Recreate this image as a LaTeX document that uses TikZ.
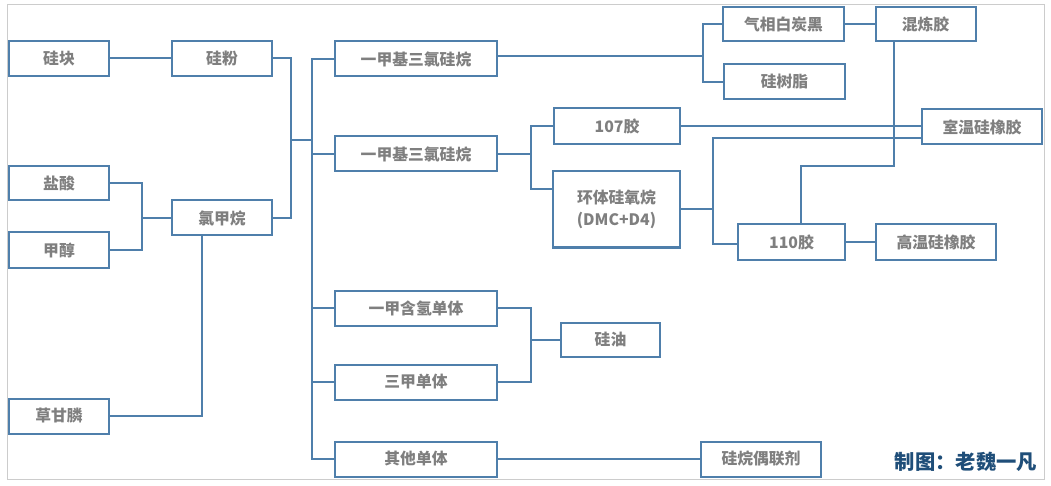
\documentclass[tikz,border=0pt]{standalone}
\usepackage{fontspec}
\setmainfont{Noto Sans CJK SC}
\definecolor{boxline}{HTML}{4F7FAB}
\definecolor{boxtext}{HTML}{7F7F7F}
\definecolor{credit}{HTML}{1F4E79}
\tikzset{
	item/.style={draw=boxline,line width=2pt,fill=white,inner sep=0pt,align=center,text=boxtext,font=\fontsize{15.8}{22}\selectfont\bfseries},
	link/.style={draw=boxline,line width=2pt}
}
\begin{document}
\begin{tikzpicture}[x=1pt,y=-1pt]
	\useasboundingbox (0,0) rectangle (1051,486);
	\draw [black!20,line width=1pt] (7,5) rectangle (1044,479);

	% RAW MATERIALS
	\foreach \n/\x/\y/\w/\h/\t in {kuai/59/58.5/100/35/硅块, fen/222/58.5/100/35/硅粉,
		suan/59/183.5/100/34/盐酸, chun/59/250/100/35/甲醇,
		wan/222/218/100/35/氯甲烷, lin/59/416/100/35/草甘膦} {
		\node [item,minimum width=\w pt,minimum height=\h pt] (\n) at (\x,\y) {\t};
	}

	% MONOMERS
	\foreach \n/\y/\t in {mono/59/一甲基三氯硅烷, monob/154/一甲基三氯硅烷, hyd/308/一甲含氢单体, tri/382/三甲单体, other/459/其他单体} {
		\node [item,minimum width=162pt,minimum height=35pt] (\n) at (416,\y) {\t};
	}

	% PRODUCTS
	\foreach \n/\x/\y/\w/\h/\t in {carbon/783.5/24.5/121/34/气相白炭黑, resin/784.5/82/121/35/硅树脂, mix/925.5/24.5/100/34/混炼胶,
		g107/617/126.5/126/36/107胶, ring/616.5/209.5/127/76/环体硅氧烷\\(DMC+D4), rtv/982/127/120/35/室温硅橡胶,
		g110/791.5/242/107/35/110胶, htv/936/242/120/35/高温硅橡胶,
		oil/610.5/339.5/99/34/硅油, silane/761/459/120/35/硅烷偶联剂} {
		\node [item,minimum width=\w pt,minimum height=\h pt] (\n) at (\x,\y) {\t};
	}

	\node [text=credit,font=\fontsize{20.3}{24}\selectfont\bfseries] (author) at (966,462) {制图：老魏一凡};

	% JUNCTIONS
	\coordinate (jfen) at (291,140);
	\coordinate (jmono) at (312,140);
	\coordinate (jsuan) at (142,218);
	\coordinate (jcarbon) at (703,56);
	\coordinate (jmonob) at (531,154);
	\coordinate (jring) at (713,209);
	\coordinate (joil) at (531,339.5);
	\coordinate (jmix) at (894,166);
	\coordinate (jg110) at (801,224);
	\coordinate (lrtv) at (921,138);

	% CONNECTORS
	\draw [link] (kuai) -- (fen);
	\draw [link] (fen.east) -| (jfen) |- (wan.east);
	\draw [link] (jfen) -- (jmono);
	\foreach \n in {mono,monob,hyd,tri,other} {
		\draw [link] (jmono) |- (\n.west);
	}
	\draw [link] (suan.east) -| (jsuan) |- (chun.east);
	\draw [link] (jsuan) -- (wan.west);
	\draw [link] (wan.south -| 202,0) |- (lin.east);
	\draw [link] (mono.east |- jcarbon) -- (jcarbon);
	\draw [link] (jcarbon) |- (carbon.west);
	\draw [link] (jcarbon) |- (resin.west);
	\draw [link] (carbon) -- (mix);
	\draw [link] (mix.south -| jmix) -- (jmix) -| (jg110);
	\draw [link] (monob) -- (jmonob);
	\draw [link] (jmonob) |- (g107.west);
	\draw [link] (jmonob) |- (ring.west |- 0,189);
	\draw [link] (g107) -- (g107 -| rtv.west);
	\draw [link] (ring.east |- jring) -- (jring);
	\draw [link] (jring) |- (lrtv);
	\draw [link] (jring) |- (g110.west |- 0,244);
	\draw [link] (g110) -- (htv);
	\draw [link] (hyd.east) -| (joil) |- (tri.east);
	\draw [link] (joil) -- (oil.west);
	\draw [link] (other) -- (silane);
\end{tikzpicture}
\end{document}
